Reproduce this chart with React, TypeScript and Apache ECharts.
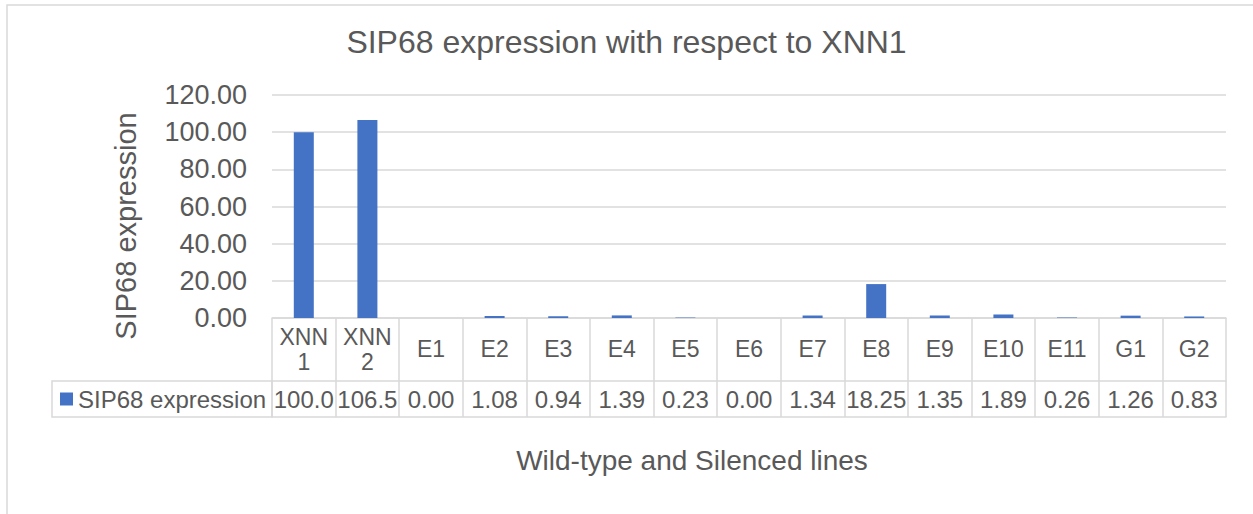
import React, { useEffect, useRef } from "react";
import * as echarts from "echarts";

const categories = ["XNN\n1", "XNN\n2", "E1", "E2", "E3", "E4", "E5", "E6", "E7", "E8", "E9", "E10", "E11", "G1", "G2"];
const seriesName = "SIP68 expression";
const values = [100.0, 106.5, 0.0, 1.08, 0.94, 1.39, 0.23, 0.0, 1.34, 18.25, 1.35, 1.89, 0.26, 1.26, 0.83];
const yTicks = { min: 0, max: 120, interval: 20 };
const titleText = "SIP68 expression with respect to XNN1";
const yTitle = "SIP68 expression";
const xTitle = "Wild-type and Silenced lines";

const FONT = "'Liberation Sans', Arial, sans-serif";
const TXT = "#595959";
const GRIDC = "#d9d9d9";

export default function App() {
  const ref = useRef<HTMLDivElement>(null);
  useEffect(() => {
    if (!ref.current) return;
    const chart = echarts.init(ref.current, null, { renderer: "svg" });
    const fmtCell = (v: number) => v.toFixed(2).slice(0, 5);
    chart.setOption({
      animation: false,
      backgroundColor: "#ffffff",
      textStyle: { fontFamily: FONT },
      title: {
        text: titleText,
        left: "center",
        top: 26,
        padding: 0,
        textStyle: { fontFamily: FONT, fontSize: 32, fontWeight: "normal", color: TXT },
      },
      legend: {
        data: [seriesName],
        left: 60,
        top: 387,
        padding: 0,
        icon: "rect",
        itemWidth: 13,
        itemHeight: 13,
        textStyle: { fontFamily: FONT, fontSize: 24, color: TXT },
      },
      grid: { left: 272, right: 27, top: 95, bottom: 196, containLabel: false },
      xAxis: [
        {
          type: "category",
          data: categories,
          position: "bottom",
          axisLine: { show: true, lineStyle: { color: GRIDC, width: 1.5 } },
          axisTick: { show: true, length: 99, interval: 0, lineStyle: { color: GRIDC, width: 1.5 } },
          axisLabel: {
            interval: 0,
            margin: 31,
            verticalAlign: "middle",
            fontFamily: FONT,
            fontSize: 23,
            lineHeight: 25,
            color: TXT,
          },
        },
        {
          type: "category",
          data: categories,
          position: "bottom",
          offset: 63,
          axisLine: { show: true, lineStyle: { color: GRIDC, width: 1.5 } },
          axisTick: { show: false },
          axisLabel: {
            interval: 0,
            margin: 18,
            verticalAlign: "middle",
            fontFamily: FONT,
            fontSize: 24,
            color: TXT,
            formatter: (_: string, idx: number) => fmtCell(values[idx]),
          },
        },
        {
          type: "category",
          data: categories,
          position: "bottom",
          offset: 99,
          axisLine: { show: true, lineStyle: { color: GRIDC, width: 1.5 } },
          axisTick: { show: false },
          axisLabel: { show: false },
        },
      ],
      yAxis: {
        type: "value",
        min: yTicks.min,
        max: yTicks.max,
        interval: yTicks.interval,
        axisLine: { show: false },
        axisTick: { show: false },
        splitLine: { lineStyle: { color: GRIDC, width: 1.5 } },
        axisLabel: {
          margin: 25,
          fontFamily: FONT,
          fontSize: 27,
          color: TXT,
          formatter: (v: number) => v.toFixed(2),
        },
      },
      series: [
        {
          name: seriesName,
          type: "bar",
          data: values,
          barWidth: 20,
          itemStyle: { color: "#4472c4" },
        },
      ],
      graphic: [
        {
          type: "rect",
          shape: { x: 7, y: 5, width: 1260, height: 520 },
          style: { fill: "none", stroke: GRIDC, lineWidth: 1.5 },
          silent: true,
        },
        {
          type: "rect",
          shape: { x: 52, y: 381, width: 220, height: 36 },
          style: { fill: "none", stroke: GRIDC, lineWidth: 1.5 },
          silent: true,
        },
        {
          type: "text",
          x: 126,
          y: 226,
          rotation: Math.PI / 2,
          style: {
            text: yTitle,
            align: "center",
            verticalAlign: "middle",
            fontFamily: FONT,
            fontSize: 29,
            fill: TXT,
          },
        },
        {
          type: "text",
          x: 692,
          y: 460,
          style: {
            text: xTitle,
            align: "center",
            verticalAlign: "middle",
            fontFamily: FONT,
            fontSize: 28,
            fill: TXT,
          },
        },
      ],
    });
    return () => chart.dispose();
  }, []);
  return <div ref={ref} style={{ width: 1253, height: 514, position: "absolute", left: 0, top: 0 }} />;
}
